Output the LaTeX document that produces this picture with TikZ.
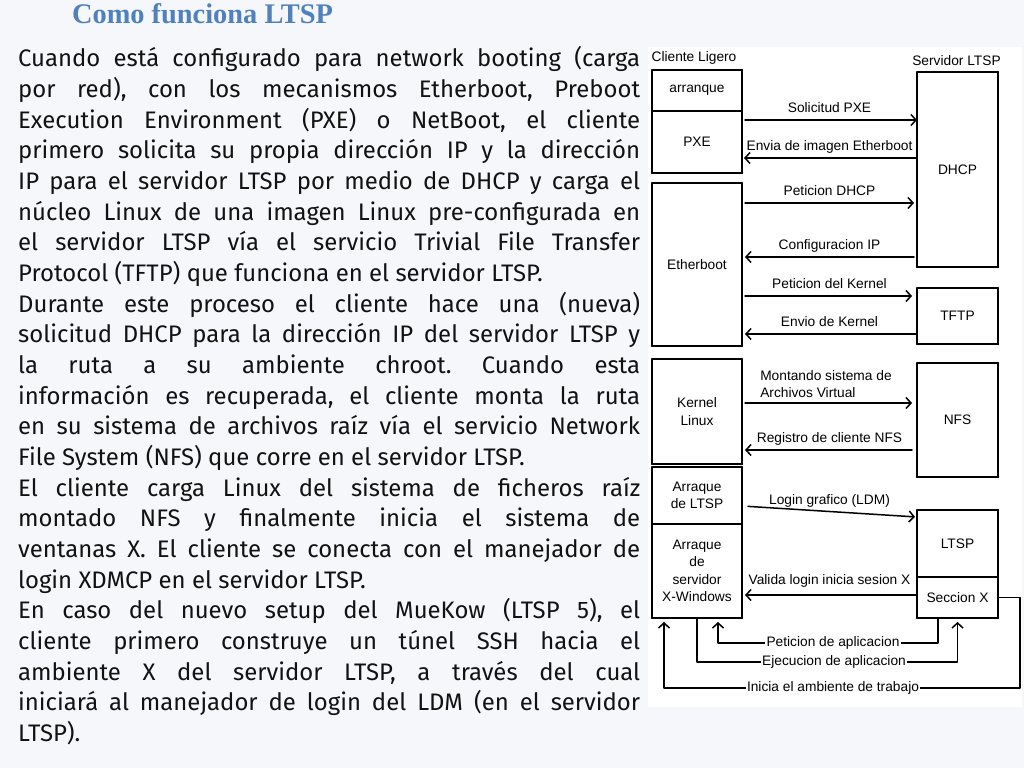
\documentclass[tikz,border=0pt]{standalone}
\usepackage{fontspec}
\setmainfont{Fira Sans}
\newfontfamily\titulofont{Liberation Serif}
\newfontfamily\diagfont{Liberation Sans}
\usetikzlibrary{arrows.meta}
\definecolor{azultit}{HTML}{4F81BD}
\definecolor{fondo}{HTML}{F5F7FB}
\definecolor{letra}{HTML}{121212}
% renglones del texto: justificado o final de parrafo
\newcommand\renglon[1]{\hbox to\hsize{#1}}
\newcommand\final[1]{\hbox{#1}}
\frenchspacing
\begin{document}
\begin{tikzpicture}[x=1bp,y=-1bp,line join=round,line cap=round,
  caja/.style={draw=black,line width=1.6bp,inner sep=0pt,outer sep=0pt,align=center,
    font=\diagfont\fontsize{13.8}{17.5}\selectfont},
  cliente/.style={caja,minimum width=90bp},
  servidor/.style={caja,minimum width=81bp},
  letrero/.style={font=\diagfont\fontsize{13.8}{17}\selectfont,inner sep=0pt,anchor=base},
  etiq/.style={letrero,yshift=7.5bp},
  flecha/.style={line width=1.5bp,-{Straight Barb[length=5bp,width=11bp,line width=1.5bp]}},
  ruta/.style={line width=1.6bp,-{Straight Barb[length=5bp,width=11bp,line width=1.5bp]},shorten >=4bp},
  rotulo/.style={font=\diagfont\fontsize{13.8}{17}\selectfont,fill=white,inner sep=1.5bp}]
  \fill[fondo] (0,0) rectangle (1024,768);
  \useasboundingbox (0,0) rectangle (1024,768);
  \fill[white] (648,47) rectangle (1022,707);

  % titulo y texto
  \node[font=\titulofont\bfseries\fontsize{28.5}{30}\selectfont,text=azultit,anchor=base] (titulo) at (202.5,24) {Como funciona LTSP};
  \node[anchor=base west,inner sep=0pt,font=\fontsize{24}{30.77}\selectfont,text=letra] (cuerpo) at (18,67) {\parbox[t]{622bp}{%
    \renglon{Cuando está configurado para network booting (carga}
    \renglon{por red), con los mecanismos Etherboot, Preboot}
    \renglon{Execution Environment (PXE) o NetBoot, el cliente}
    \renglon{primero solicita su propia dirección IP y la dirección}
    \renglon{IP para el servidor LTSP por medio de DHCP y carga el}
    \renglon{núcleo Linux de una imagen Linux pre-configurada en}
    \renglon{el servidor LTSP vía el servicio Trivial File Transfer}
    \final{Protocol (TFTP) que funciona en el servidor LTSP.}
    \renglon{Durante este proceso el cliente hace una (nueva)}
    \renglon{solicitud DHCP para la dirección IP del servidor LTSP y}
    \renglon{la ruta a su ambiente chroot. Cuando esta}
    \renglon{información es recuperada, el cliente monta la ruta}
    \renglon{en su sistema de archivos raíz vía el servicio Network}
    \final{File System (NFS) que corre en el servidor LTSP.}
    \renglon{El cliente carga Linux del sistema de ficheros raíz}
    \renglon{montado NFS y finalmente inicia el sistema de}
    \renglon{ventanas X. El cliente se conecta con el manejador de}
    \final{login XDMCP en el servidor LTSP.}
    \renglon{En caso del nuevo setup del MueKow (LTSP 5), el}
    \renglon{cliente primero construye un túnel SSH hacia el}
    \renglon{ambiente X del servidor LTSP, a través del cual}
    \renglon{iniciará al manejador de login del LDM (en el servidor}
    \final{LTSP).}}};

  % cliente ligero
  \node[letrero] (cliente) at (694,62) {Cliente Ligero};
  \node[cliente,minimum height=41bp] (arranque) at (697,90.5) {arranque};
  \node[cliente,minimum height=62bp] (pxe) at (697,142) {PXE};
  \node[cliente,minimum height=163bp] (etherboot) at (697,264.5) {Etherboot};
  \node[cliente,minimum height=105bp] (kernel) at (697,411.5) {Kernel\\Linux};
  \node[cliente,minimum height=57bp] (arrltsp) at (697,495.5) {Arraque\\de LTSP};
  \node[cliente,minimum height=94bp] (arrx) at (697,571) {Arraque\\de\\servidor\\X-Windows};

  % servidor LTSP
  \node[letrero] (servidor) at (956.5,66) {Servidor LTSP};
  \node[servidor,minimum height=195bp] (dhcp) at (957.5,169.5) {DHCP};
  \node[servidor,minimum height=56bp] (tftp) at (957.5,316) {TFTP};
  \node[servidor,minimum height=114bp] (nfs) at (957.5,420) {NFS};
  \node[servidor,minimum height=67bp] (ltsp) at (957.5,543.5) {LTSP};
  \node[servidor,minimum height=41bp] (seccion) at (957.5,597.5) {Seccion X};

  % bordes mas gruesos a la derecha y abajo
  \foreach \n in {arranque,pxe,etherboot,kernel,arrltsp,arrx,dhcp,tftp,nfs,ltsp,seccion}
    \draw[line width=2.6bp] (\n.north east) -- (\n.south east);
  \foreach \n in {pxe,etherboot,kernel,arrx,dhcp,tftp,nfs,seccion}
    \draw[line width=2.6bp] (\n.south east) -- (\n.south west);

  % mensajes
  \draw[flecha,shorten <=3bp] (pxe.east |- 0,120) -- (dhcp.west |- 0,120) node[etiq,midway]{Solicitud PXE};
  \draw[flecha,shorten >=2bp] (dhcp.west |- 0,158) -- (pxe.east |- 0,158) node[etiq,midway]{Envia de imagen Etherboot};
  \draw[flecha,shorten <=3bp,shorten >=3bp] (etherboot.east |- 0,203) -- (dhcp.west |- 0,203) node[etiq,midway]{Peticion DHCP};
  \draw[flecha,shorten <=3bp,shorten >=3bp] (dhcp.west |- 0,257) -- (etherboot.east |- 0,257) node[etiq,midway]{Configuracion IP};
  \draw[flecha,shorten <=3bp,shorten >=5bp] (etherboot.east |- 0,296) -- (tftp.west |- 0,296) node[etiq,midway]{Peticion del Kernel};
  \draw[flecha,shorten >=3bp] (tftp.west |- 0,334) -- (etherboot.east |- 0,334) node[etiq,midway]{Envio de Kernel};
  \draw[flecha,shorten <=3bp,shorten >=5bp] (kernel.east |- 0,403) -- (nfs.west |- 0,403)
    node[letrero,pos=0.1,anchor=south west,align=left,yshift=5bp]{Montando sistema de\\Archivos Virtual};
  \draw[flecha,shorten <=5bp,shorten >=3bp] (nfs.west |- 0,450) -- (kernel.east |- 0,450) node[etiq,midway]{Registro de cliente NFS};
  \draw[flecha,shorten <=6bp,shorten >=2bp] (arrltsp.east |- 0,506) -- (ltsp.west |- 0,517) node[etiq,midway]{Login grafico (LDM)};
  \draw[flecha,shorten >=3bp] (seccion.west |- 0,595) -- (arrx.east |- 0,595) node[etiq,midway,yshift=3bp]{Valida login inicia sesion X};

  % retornos por abajo
  \draw[ruta] ([xshift=-19.5bp]seccion.south) |- (833,643) node[rotulo]{Peticion de aplicacion} -| ([xshift=21bp]arrx.south);
  \draw[ruta] (arrx.south) |- (834,662) node[rotulo]{Ejecucion de aplicacion} -| (seccion.south);
  \draw[ruta] (seccion.east) -- ++(22,0) |- (833,688) node[rotulo]{Inicia el ambiente de trabajo} -| ([xshift=-33bp]arrx.south);
\end{tikzpicture}
\end{document}
